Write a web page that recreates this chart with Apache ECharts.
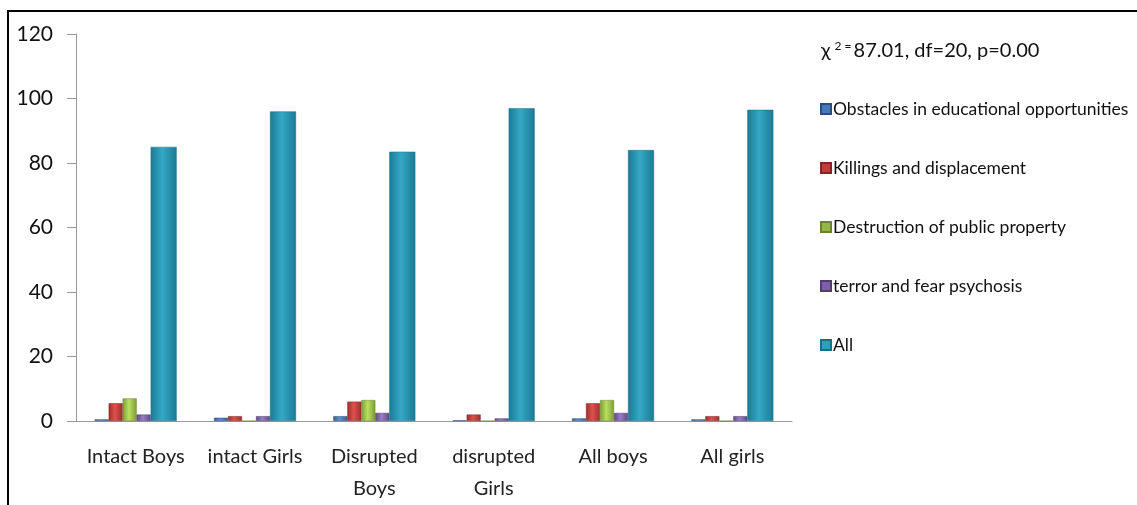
<!DOCTYPE html>
<html>
<head>
<meta charset="utf-8">
<script src="https://cdn.jsdelivr.net/npm/echarts@6/dist/echarts.min.js"></script>
<style>
  html, body { margin: 0; padding: 0; background: #fff; }
  .frame {
    position: absolute; left: 7px; top: 10px;
    width: 1200px; height: 600px;
    border-left: 2px solid #000; border-top: 2px solid #000;
  }
  #chart { position: absolute; left: 0; top: 0; width: 1137px; height: 505px; }
</style>
</head>
<body>
<div class="frame"></div>
<div id="chart"></div>
<script>
// groups on the x axis
const categories = ["Intact Boys", "intact Girls", "Disrupted\nBoys", "disrupted\nGirls", "All boys", "All girls"];
// series values (percent)
const obstacles = [0.5, 1.0, 1.5, 0.2, 0.8, 0.5];
const killings = [5.5, 1.5, 6.0, 2.0, 5.5, 1.5];
const destruction = [7.0, 0.0, 6.5, 0.0, 6.5, 0.0];
const terror = [2.0, 1.5, 2.5, 0.8, 2.5, 1.5];
const allReasons = [85, 96, 83.5, 97, 84, 96.5];
const yTicks = [0, 20, 40, 60, 80, 100, 120];

function shade(dark, light) {
  return new echarts.graphic.LinearGradient(0, 0, 1, 0, [
    { offset: 0, color: dark },
    { offset: 0.45, color: light },
    { offset: 1, color: dark }
  ]);
}

const chart = echarts.init(document.getElementById("chart"));
const font = "Lato, 'Open Sans', sans-serif";

const option = {
  animation: false,
  textStyle: { fontFamily: font },
  title: {
    text: "χ{sup|2 =}87.01, df=20, p=0.00",
    left: 816,
    top: 35,
    textStyle: {
      fontFamily: font,
      fontSize: 20,
      fontWeight: "normal",
      color: "#111",
      rich: {
        sup: { fontSize: 12, verticalAlign: "top", padding: [0, 2, 10, 4], color: "#111" }
      }
    }
  },
  legend: {
    orient: "vertical",
    left: 815,
    top: 95,
    itemWidth: 10,
    itemHeight: 10,
    itemGap: 41,
    icon: "rect",
    textStyle: { fontFamily: font, fontSize: 17.5, color: "#111", padding: [0, 0, 0, -3] }
  },
  grid: { left: 76, right: 345, top: 34, bottom: 81 },
  xAxis: {
    type: "category",
    data: categories,
    axisLine: { lineStyle: { color: "#999", width: 1 } },
    axisTick: { show: false },
    axisLabel: { fontFamily: font, fontSize: 20, color: "#222", margin: 20, lineHeight: 32, interval: 0 }
  },
  yAxis: {
    type: "value",
    min: yTicks[0],
    max: yTicks[yTicks.length - 1],
    interval: 20,
    splitLine: { show: false },
    axisLine: { show: true, lineStyle: { color: "#999" } },
    axisTick: { show: true, length: 9, lineStyle: { color: "#999" } },
    axisLabel: { fontFamily: font, fontSize: 21, color: "#111", margin: 23 }
  },
  series: [
    {
      name: "Obstacles in educational opportunities",
      type: "bar", data: obstacles, barWidth: 14, barGap: "0%",
      itemStyle: { color: shade("#365F91", "#5B8FD0"), borderColor: "#2c4d78", borderWidth: 0.5 }
    },
    {
      name: "Killings and displacement",
      type: "bar", data: killings, barWidth: 14, barGap: "0%",
      itemStyle: { color: shade("#9B2F2C", "#E0504C"), borderColor: "#7f2624", borderWidth: 0.5 }
    },
    {
      name: "Destruction of public property",
      type: "bar", data: destruction, barWidth: 14, barGap: "0%",
      itemStyle: { color: shade("#7E9B3A", "#B9E05A"), borderColor: "#6a8231", borderWidth: 0.5 }
    },
    {
      name: "terror and fear psychosis",
      type: "bar", data: terror, barWidth: 14, barGap: "0%",
      itemStyle: { color: shade("#5F4B82", "#9A7CC6"), borderColor: "#4f3e6c", borderWidth: 0.5 }
    },
    {
      name: "All",
      type: "bar", data: allReasons, barWidth: 26, barGap: "0%",
      itemStyle: { color: shade("#1C7A94", "#34A8C6"), borderColor: "#1a6f87", borderWidth: 0.5 }
    }
  ]
};
const legendColors = ["#4a78b5", "#c43c3a", "#93b847", "#7d60a8", "#2f9fbd"];
option.legend.data = option.series.map(function (s, i) {
  return { name: s.name, itemStyle: { color: legendColors[i] } };
});

chart.setOption(option);
</script>
</body>
</html>
